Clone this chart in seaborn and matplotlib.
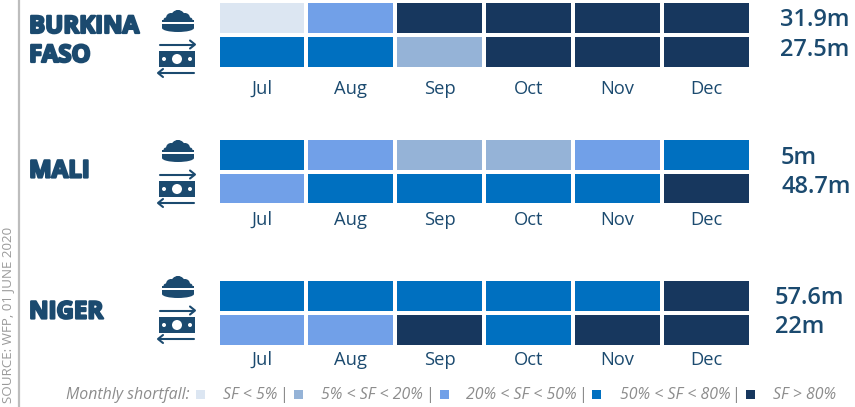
import numpy as np
import pandas as pd
import matplotlib.pyplot as plt
import matplotlib.patheffects as pe
from matplotlib.colors import ListedColormap
from matplotlib.patches import Rectangle, Circle, Ellipse
import seaborn as sns

# ---- data ----
months = ["Jul", "Aug", "Sep", "Oct", "Nov", "Dec"]
# shortfall class per month: 0 <5%, 1 5-20%, 2 20-50%, 3 50-80%, 4 >80%
burkina_food = [0, 2, 4, 4, 4, 4]
burkina_cash = [3, 3, 1, 4, 4, 4]
mali_food = [3, 2, 1, 1, 2, 3]
mali_cash = [2, 3, 3, 3, 3, 4]
niger_food = [3, 3, 3, 3, 3, 4]
niger_cash = [2, 2, 4, 3, 4, 4]
burkina_totals = ["31.9m", "27.5m"]
mali_totals = ["5m", "48.7m"]
niger_totals = ["57.6m", "22m"]
class_colors = ["#DCE6F2", "#95B3D7", "#71A0E8", "#0070C0", "#17375E"]
class_labels = ["SF < 5%", "5% < SF < 20%", "20% < SF < 50%", "50% < SF < 80%", "SF > 80%"]

W, H = 855, 407
NAVY = "#1B4A6F"
GREY = "#8C8C8C"

sns.set_theme(style="white")
plt.rcParams["font.family"] = ["Open Sans", "DejaVu Sans"]

fig = plt.figure(figsize=(W / 100, H / 100), dpi=100)
cmap = ListedColormap(class_colors)


def px_axes(x0, y0, x1, y1, **kw):
    return fig.add_axes([x0 / W, 1 - y1 / H, (x1 - x0) / W, (y1 - y0) / H], **kw)


def draw_panel(food, cash, y0, y1, pad):
    # outer grid lines get clipped, so the axes sit 1px outside the visible cells
    ax = px_axes(217.5, y0 - 1, 750.5, y1 + 1)
    df = pd.DataFrame([food, cash], columns=months)
    sns.heatmap(df, ax=ax, cmap=cmap, vmin=-0.5, vmax=4.5, cbar=False,
                linewidths=1.5, linecolor="white", yticklabels=False)
    ax.hlines(1, 0, 6, color="white", lw=2.6)
    ax.tick_params(axis="x", length=0, pad=pad, labelsize=13.2, labelcolor=NAVY, rotation=0)
    return ax


draw_panel(burkina_food, burkina_cash, 2, 68, 8)
draw_panel(mali_food, mali_cash, 139, 204, 4)
draw_panel(niger_food, niger_cash, 280, 346, 3)

# overlay in pixel coordinates for the text, icons and legend
ov = fig.add_axes([0, 0, 1, 1], zorder=5)
ov.set_xlim(0, W)
ov.set_ylim(H, 0)
ov.axis("off")
ov.patch.set_alpha(0)

ov.plot([19, 19], [0, H], color="#BDBDBD", lw=1.6)
ov.text(8, 403, "SOURCE: WFP, 01 JUNE 2020", rotation=90, color="#9A9A9A", fontsize=9.6,
        ha="center", va="bottom")


def draw_icons(dy):
    # food bowl
    for cx, cy, r in [(178, 17, 7), (171, 18, 5), (185, 18, 5), (178, 13, 3), (166, 20, 2.5), (190, 20, 2.5)]:
        ov.add_patch(Circle((cx, cy + dy), r, color=NAVY, lw=0))
    ov.add_patch(Rectangle((162, 20 + dy), 32, 2, color=NAVY, lw=0))
    ov.add_patch(Rectangle((161.5, 22 + dy), 33, 1.5, color="white", lw=0, zorder=3))
    ov.add_patch(Rectangle((162, 23.5 + dy), 32, 4.5, color=NAVY, lw=0))
    ov.add_patch(Ellipse((178, 28 + dy), 32, 8, color=NAVY, lw=0))
    # banknote with the two arrows
    ov.add_patch(Rectangle((159, 51 + dy), 36, 16, color=NAVY, lw=0))
    ov.add_patch(Circle((177, 59 + dy), 5, color="white", lw=0))
    ov.add_patch(Circle((164, 59 + dy), 2, color="white", lw=0))
    ov.add_patch(Circle((190, 59 + dy), 2, color="white", lw=0))
    ov.plot([160, 193], [44.5 + dy] * 2, color=NAVY, lw=1.5)
    ov.plot([190, 195, 190], [40.5 + dy, 44.5 + dy, 48.5 + dy], color=NAVY, lw=1.5)
    ov.plot([160, 194], [73 + dy] * 2, color=NAVY, lw=1.5)
    ov.plot([163, 158, 163], [69 + dy, 73 + dy, 77 + dy], color=NAVY, lw=1.5)


for dy in [0, 130, 266]:
    draw_icons(dy)

heavy = [pe.withStroke(linewidth=1.6, foreground=NAVY)]
for x, y, name in [(29, 27, "BURKINA"), (29, 56, "FASO"), (29, 171.5, "MALI"), (29, 312.5, "NIGER")]:
    ov.text(x, y, name, color=NAVY, fontsize=17.3, fontweight="bold", va="center", ha="left",
            path_effects=heavy)

total_pos = [(780, 20, burkina_totals[0]), (780, 50, burkina_totals[1]),
             (781, 158, mali_totals[0]), (781, 187, mali_totals[1]),
             (775, 298, niger_totals[0]), (775, 327, niger_totals[1])]
for x, y, s in total_pos:
    ov.text(x, y, s, color=NAVY, fontsize=17, fontweight="semibold", va="center", ha="left")

# legend row
leg_y = 395
ov.text(66, leg_y, "Monthly shortfall:", color=GREY, fontsize=11.4, style="italic", va="center")
square_x = [196, 294, 440, 592, 746]
label_x = [223, 321, 466, 620, 773]
bar_x = [284, 430, 583, 736]
for c, sx, lx, lab in zip(class_colors, square_x, label_x, class_labels):
    ov.add_patch(Rectangle((sx, leg_y - 5), 9, 9, color=c, lw=0))
    ov.text(lx, leg_y, lab, color=GREY, fontsize=11.4, style="italic", va="center")
for bx in bar_x:
    ov.text(bx, leg_y, "|", color=GREY, fontsize=11.4, va="center", ha="center")

fig.savefig("out.png", dpi=100)
